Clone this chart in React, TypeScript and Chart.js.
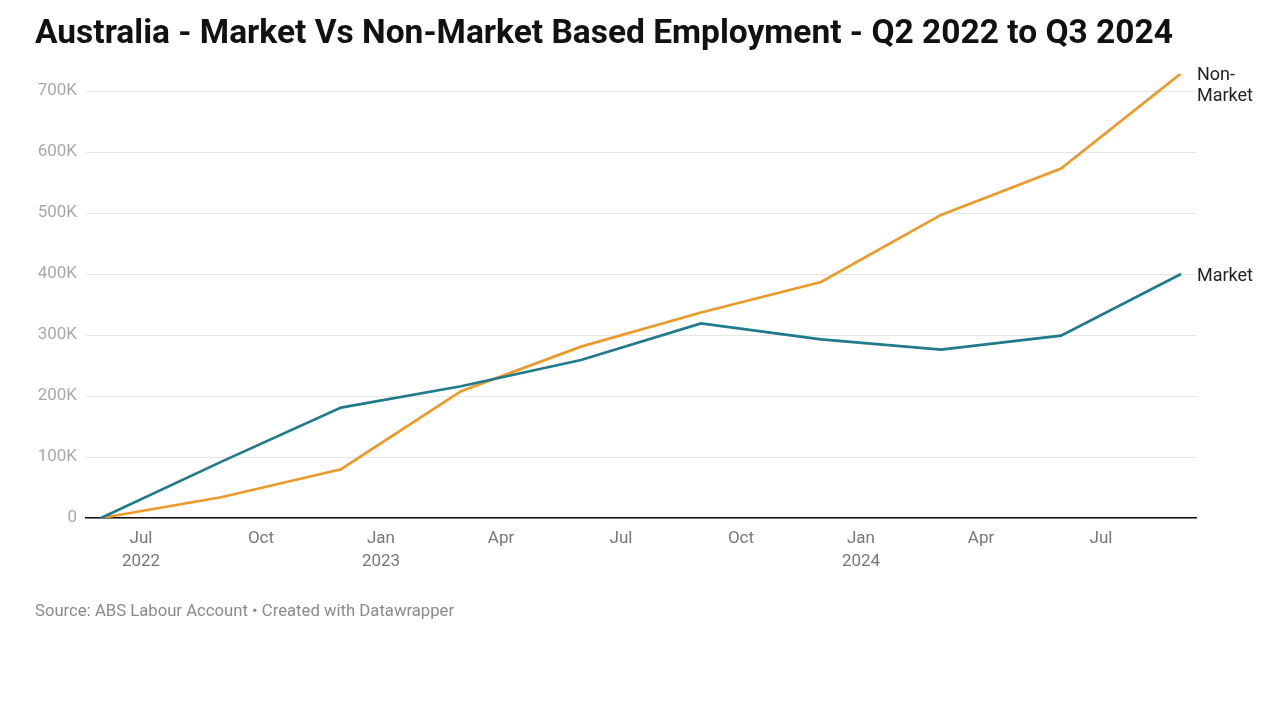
import React, { useEffect, useRef } from "react";
import { Chart, registerables } from "chart.js";

Chart.register(...registerables);

const quarters = ["Jun 2022", "Sep 2022", "Dec 2022", "Mar 2023", "Jun 2023", "Sep 2023", "Dec 2023", "Mar 2024", "Jun 2024", "Sep 2024"];
// month index counted from Jan 2022 = 0
const quarterMonths = [5, 8, 11, 14, 17, 20, 23, 26, 29, 32];
const marketValues = [0, 92000, 181000, 216000, 259000, 319000, 293000, 276000, 299000, 400000];
const nonMarketValues = [0, 34000, 80000, 208000, 281000, 337000, 387000, 497000, 573000, 729000];

const xTickMonths = [6, 9, 12, 15, 18, 21, 24, 27, 30];
const xTickLabels: string[][] = [["Jul", "2022"], ["Oct"], ["Jan", "2023"], ["Apr"], ["Jul"], ["Oct"], ["Jan", "2024"], ["Apr"], ["Jul"]];
const yTickValues = [0, 100000, 200000, 300000, 400000, 500000, 600000, 700000];
const yTickLabels = ["0", "100K", "200K", "300K", "400K", "500K", "600K", "700K"];

const seriesNames = ["Market", "Non-Market"];
const endLabels: string[][] = [["Market"], ["Non-", "Market"]];
const seriesColors = ["#1f7a8c", "#ec9a29"];

const titleText = "Australia - Market Vs Non-Market Based Employment - Q2 2022 to Q3 2024";
const sourceText = "Source: ABS Labour Account • Created with Datawrapper";

const FONT = "Roboto, 'Noto Sans', sans-serif";

export default function App() {
  const ref = useRef<HTMLCanvasElement | null>(null);

  useEffect(() => {
    if (!ref.current) return;

    const textPlugin = {
      id: "texts",
      afterDraw(chart: any) {
        const ctx = chart.ctx;
        ctx.save();
        ctx.textBaseline = "middle";
        ctx.textAlign = "left";
        ctx.fillStyle = "#111";
        ctx.font = `bold 33.5px ${FONT}`;
        ctx.fillText(titleText, 35, 35);
        ctx.fillStyle = "#8a8a8a";
        ctx.font = `16.7px ${FONT}`;
        ctx.fillText(sourceText, 35, 612);

        ctx.fillStyle = "#222";
        ctx.font = `18px ${FONT}`;
        chart.data.datasets.forEach((ds: any, i: number) => {
          const meta = chart.getDatasetMeta(i);
          const pt = meta.data[meta.data.length - 1];
          if (!pt) return;
          const lines = endLabels[i];
          lines.forEach((ln, j) => {
            ctx.fillText(ln, pt.x + 16, pt.y + 2 + j * 21);
          });
        });
        ctx.restore();
      },
    };

    const chart = new Chart(ref.current, {
      type: "line",
      data: {
        datasets: [
          {
            label: seriesNames[0],
            data: quarterMonths.map((m, i) => ({ x: m, y: marketValues[i] })),
            borderColor: seriesColors[0],
            backgroundColor: seriesColors[0],
            borderWidth: 2.7,
            pointRadius: 0,
            tension: 0,
          },
          {
            label: seriesNames[1],
            data: quarterMonths.map((m, i) => ({ x: m, y: nonMarketValues[i] })),
            borderColor: seriesColors[1],
            backgroundColor: seriesColors[1],
            borderWidth: 2.7,
            pointRadius: 0,
            tension: 0,
          },
        ],
      },
      options: {
        responsive: false,
        animation: false,
        layout: { padding: { top: 74, left: 0, right: 84, bottom: 142 } },
        plugins: {
          legend: { display: false },
          title: { display: false },
          tooltip: { enabled: false },
        },
        scales: {
          x: {
            type: "linear",
            min: 4.625,
            max: 32.375,
            afterBuildTicks(scale: any) {
              scale.ticks = xTickMonths.map((v) => ({ value: v }));
            },
            afterFit(scale: any) {
              scale.height = 60;
            },
            ticks: {
              autoSkip: false,
              maxRotation: 0,
              padding: 9,
              color: "#777",
              font: { family: FONT, size: 17, lineHeight: 1.38 },
              callback(value: any) {
                const idx = xTickMonths.indexOf(Number(value));
                return idx >= 0 ? xTickLabels[idx] : "";
              },
            },
            grid: { display: false, drawTicks: false },
            border: { display: true, color: "#111", width: 1.5 },
          },
          y: {
            type: "linear",
            min: 0,
            max: 728000,
            afterBuildTicks(scale: any) {
              scale.ticks = yTickValues.map((v) => ({ value: v }));
            },
            afterFit(scale: any) {
              scale.width = 86;
            },
            ticks: {
              padding: 9,
              color: "#a8a8a8",
              font: { family: FONT, size: 17 },
              callback(value: any) {
                const idx = yTickValues.indexOf(Number(value));
                return idx >= 0 ? yTickLabels[idx] : "";
              },
            },
            grid: { color: "#e6e6e6", lineWidth: 1, drawTicks: false },
            border: { display: false },
          },
        },
      },
      plugins: [textPlugin],
    });

    return () => chart.destroy();
  }, []);

  return (
    <div style={{ position: "fixed", left: 0, top: 0, width: 1280, height: 720, background: "#fff" }}>
      <canvas ref={ref} width={1280} height={720} style={{ width: 1280, height: 720, display: "block" }} />
    </div>
  );
}
